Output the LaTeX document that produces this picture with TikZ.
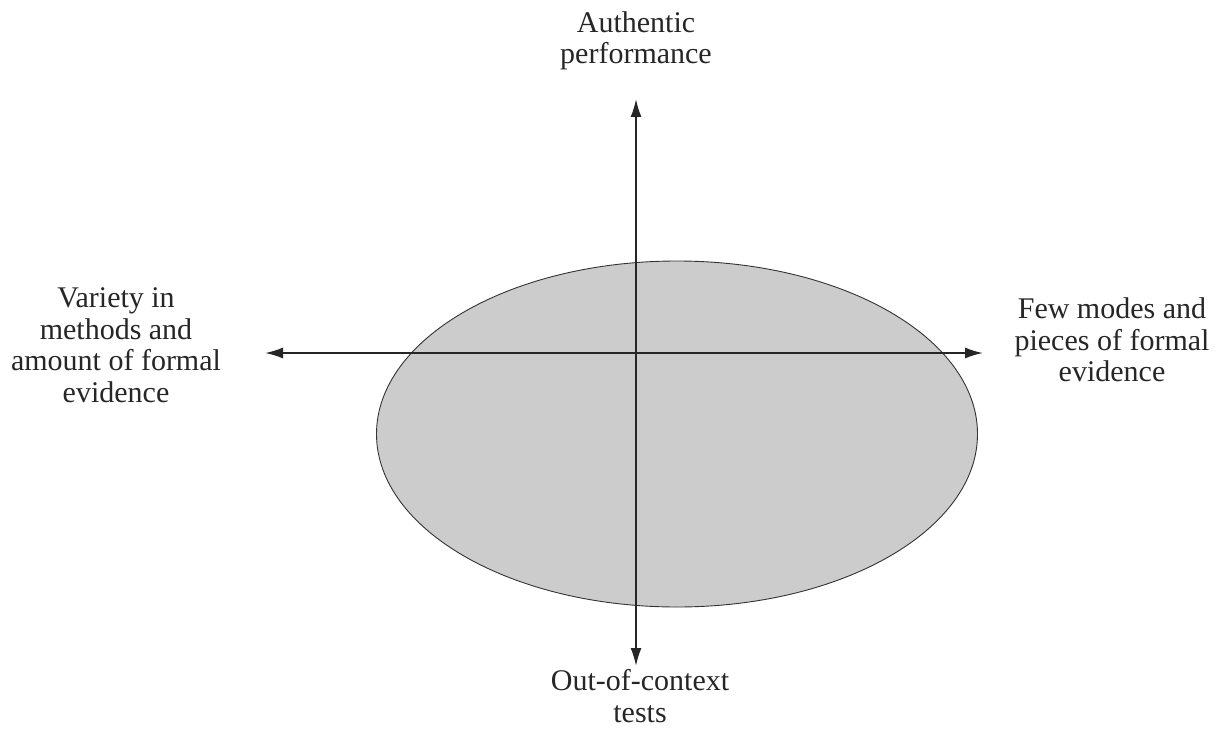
\documentclass[tikz,border=0pt]{standalone}
\usepackage{fontspec}
\setmainfont{Liberation Serif}
\usetikzlibrary{arrows.meta,shapes.geometric}
\begin{document}
\begin{tikzpicture}[x=1pt,y=-1pt,
  axis/.style={line width=1.8pt,draw=black!85,-{Latex[length=18pt,width=11pt]}},
  lbl/.style={align=center,inner sep=0pt,font=\fontsize{30}{31.5}\selectfont,text=black!85},
  blob/.style={ellipse,draw=black!80,line width=0.9pt,fill=black!20,minimum width=601pt,minimum height=346pt,inner sep=0pt}]
\useasboundingbox (0,0) rectangle (1217,730);
\node[blob] (ell) at (677,434) {};
\coordinate (top) at (636,99);
\coordinate (bot) at (636,666);
\coordinate (lft) at (265,353);
\coordinate (rgt) at (983,353);
\draw[axis] (636,660) -- (top);
\draw[axis] (636,110) -- (bot);
\draw[axis] (975,353) -- (lft);
\draw[axis] (272,353) -- (rgt);
\node[lbl] (ta) at (636,41) {Authentic\\performance};
\node[lbl] (tl) at (116,345) {Variety in\\methods and\\amount of formal\\evidence};
\node[lbl] (tr) at (1112,340) {Few modes and\\pieces of formal\\evidence};
\node[lbl] (tb) at (640,696) {Out-of-context\\tests};
\end{tikzpicture}
\end{document}
